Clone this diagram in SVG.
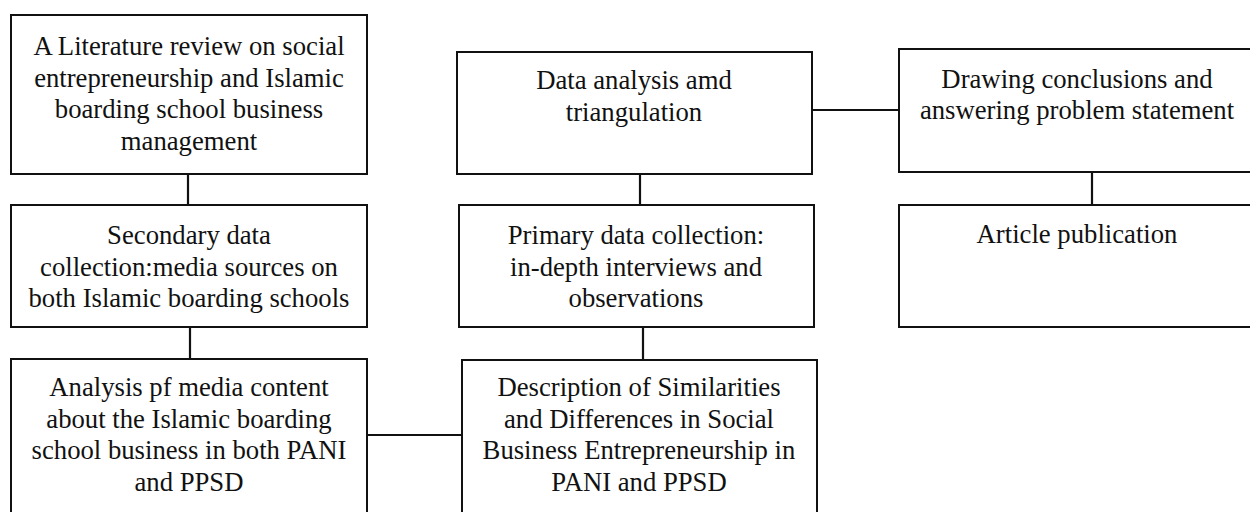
<svg xmlns="http://www.w3.org/2000/svg" width="1250" height="512" viewBox="0 0 1250 512">
  <style>
    .box { fill: #ffffff; stroke: #111111; stroke-width: 2; }
    .link { stroke: #111111; stroke-width: 2.2; fill: none; }
    .label { font-family: "Liberation Serif", "Times New Roman", serif; font-size: 26.7px; fill: #111111; text-anchor: middle; }
  </style>
  <rect width="1250" height="512" fill="#ffffff"/>

  <!-- connectors -->
  <g id="connectors">
    <line class="link" x1="188" y1="175" x2="188" y2="205"/>
    <line class="link" x1="190" y1="327" x2="190" y2="359"/>
    <line class="link" x1="367" y1="435" x2="462" y2="435"/>
    <line class="link" x1="643" y1="327" x2="643" y2="360"/>
    <line class="link" x1="640" y1="174" x2="640" y2="206"/>
    <line class="link" x1="812" y1="110" x2="899" y2="110"/>
    <line class="link" x1="1092" y1="172" x2="1092" y2="205"/>
  </g>

  <!-- left column -->
  <g id="literature-review">
    <rect class="box" x="11" y="15" width="356" height="159"/>
    <text class="label" x="189" y="55">A Literature review on social</text>
    <text class="label" x="189" y="87">entrepreneurship and Islamic</text>
    <text class="label" x="189" y="118">boarding school business</text>
    <text class="label" x="189" y="150">management</text>
  </g>

  <g id="secondary-data">
    <rect class="box" x="11" y="205" width="356" height="122"/>
    <text class="label" x="189" y="244">Secondary data</text>
    <text class="label" x="189" y="276">collection:media sources on</text>
    <text class="label" x="189" y="307">both Islamic boarding schools</text>
  </g>

  <g id="media-analysis">
    <rect class="box" x="11" y="359" width="356" height="170"/>
    <text class="label" x="189" y="396">Analysis pf media content</text>
    <text class="label" x="189" y="428">about the Islamic boarding</text>
    <text class="label" x="189" y="459">school business in both PANI</text>
    <text class="label" x="189" y="491">and PPSD</text>
  </g>

  <!-- middle column -->
  <g id="data-analysis">
    <rect class="box" x="457" y="52" width="355" height="122"/>
    <text class="label" x="634" y="89">Data analysis amd</text>
    <text class="label" x="634" y="121">triangulation</text>
  </g>

  <g id="primary-data">
    <rect class="box" x="459" y="205" width="355" height="122"/>
    <text class="label" x="636" y="244">Primary data collection:</text>
    <text class="label" x="636" y="276">in-depth interviews and</text>
    <text class="label" x="636" y="307">observations</text>
  </g>

  <g id="description">
    <rect class="box" x="462" y="360" width="355" height="170"/>
    <text class="label" x="639" y="396">Description of Similarities</text>
    <text class="label" x="639" y="428">and Differences in Social</text>
    <text class="label" x="639" y="459">Business Entrepreneurship in</text>
    <text class="label" x="639" y="491">PANI and PPSD</text>
  </g>

  <!-- right column -->
  <g id="conclusions">
    <rect class="box" x="899" y="49" width="356" height="123"/>
    <text class="label" x="1077" y="88">Drawing conclusions and</text>
    <text class="label" x="1077" y="119">answering problem statement</text>
  </g>

  <g id="publication">
    <rect class="box" x="899" y="205" width="356" height="122"/>
    <text class="label" x="1077" y="243">Article publication</text>
  </g>
</svg>
